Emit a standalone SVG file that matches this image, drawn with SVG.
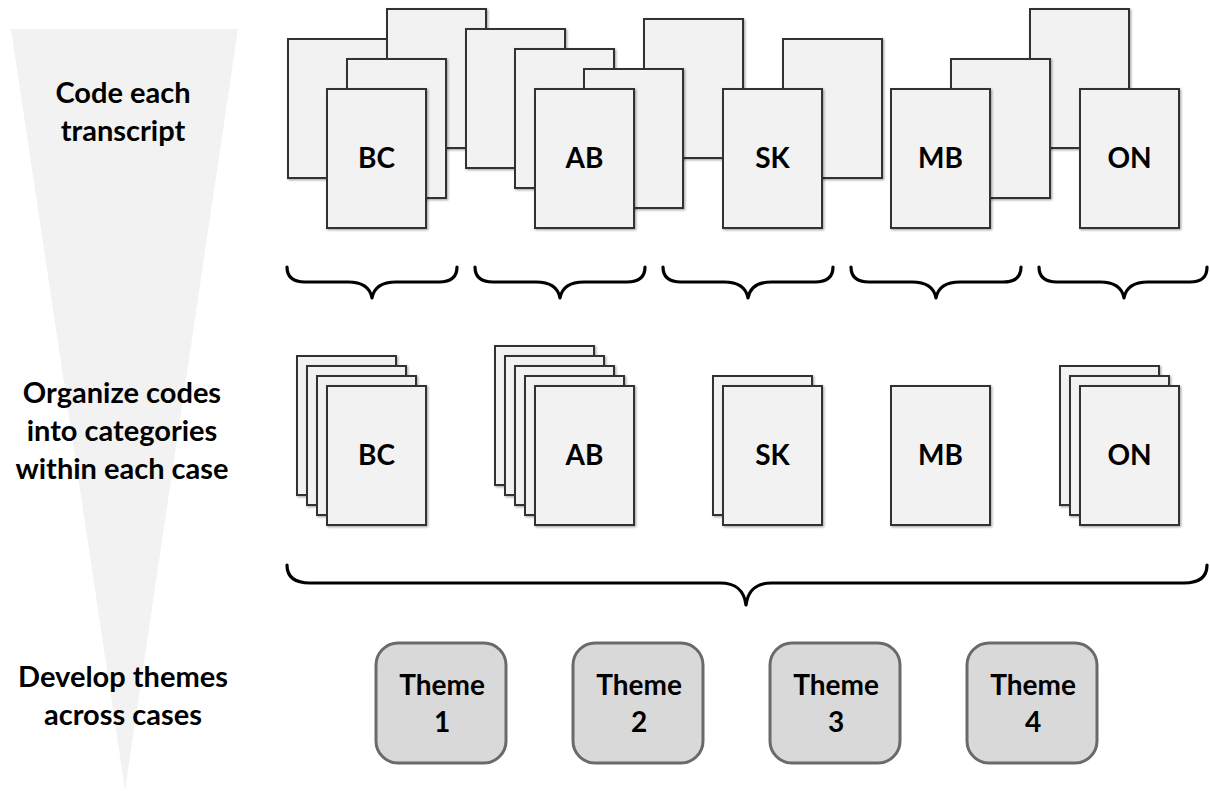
<svg xmlns="http://www.w3.org/2000/svg" width="1210" height="791" viewBox="0 0 1210 791">
<style>
.doc{fill:#f2f2f2;stroke:#333;stroke-width:2;filter:url(#sh)}
.lbl{font-family:Lato,"Open Sans","Liberation Sans",sans-serif;font-weight:700;font-size:28px;fill:#000;text-anchor:middle}
.step{font-family:Lato,"Open Sans","Liberation Sans",sans-serif;font-weight:700;font-size:29px;fill:#000;text-anchor:middle}
.brace{fill:none;stroke:#000;stroke-width:3.2;stroke-linecap:round;stroke-linejoin:round}
.theme{fill:#d9d9d9;stroke:#6a6a6a;stroke-width:3}
</style>
<defs>
<filter id="sh" x="-10%" y="-10%" width="130%" height="130%">
<feDropShadow dx="1.2" dy="1.2" stdDeviation="0.8" flood-color="#000" flood-opacity="0.35"/>
</filter>
</defs>
<rect width="1210" height="791" fill="#fff"/>
<g id="funnel">
<polygon points="11,29 238,29 125,790" fill="#f2f2f2"/>
</g>
<g id="step-labels">
<text class="step" x="123" y="103">Code each</text>
<text class="step" x="123" y="141">transcript</text>
<text class="step" x="122" y="403">Organize codes</text>
<text class="step" x="122" y="441">into categories</text>
<text class="step" x="122" y="479">within each case</text>
<text class="step" x="123" y="687">Develop themes</text>
<text class="step" x="123" y="725">across cases</text>
</g>
<g id="top-BC">
<rect class="doc" x="288" y="39" width="99" height="139"/>
<rect class="doc" x="387" y="9" width="99" height="139"/>
<rect class="doc" x="347" y="59" width="99" height="139"/>
<rect class="doc" x="327" y="89" width="99" height="139"/>
<text class="lbl" x="376.5" y="168">BC</text>
</g>
<g id="top-SK">
<rect class="doc" x="644" y="19" width="99" height="139"/>
<rect class="doc" x="783" y="39" width="99" height="139"/>
<rect class="doc" x="723" y="89" width="99" height="139"/>
<text class="lbl" x="772.5" y="168">SK</text>
</g>
<g id="top-AB">
<rect class="doc" x="466" y="29" width="99" height="139"/>
<rect class="doc" x="515" y="49" width="99" height="139"/>
<rect class="doc" x="584" y="69" width="99" height="139"/>
<rect class="doc" x="535" y="89" width="99" height="139"/>
<text class="lbl" x="584.5" y="168">AB</text>
</g>
<g id="top-ON">
<rect class="doc" x="1030" y="9" width="99" height="139"/>
<rect class="doc" x="1080" y="89" width="99" height="139"/>
<text class="lbl" x="1129.5" y="168">ON</text>
</g>
<g id="top-MB">
<rect class="doc" x="951" y="59" width="99" height="139"/>
<rect class="doc" x="891" y="89" width="99" height="139"/>
<text class="lbl" x="940.5" y="168">MB</text>
</g>
<g id="connectors">
<path class="brace" d="M287 267 C287 277 293 282 305 282 H348 C362 282 370 287 372 298 C374 287 382 282 396 282 H439 C451 282 457 277 457 267"/>
<path class="brace" d="M475 267 C475 277 481 282 493 282 H536 C550 282 558 287 560 298 C562 287 570 282 584 282 H627 C639 282 645 277 645 267"/>
<path class="brace" d="M663 267 C663 277 669 282 681 282 H724 C738 282 746 287 748 298 C750 287 758 282 772 282 H815 C827 282 833 277 833 267"/>
<path class="brace" d="M851 267 C851 277 857 282 869 282 H912 C926 282 934 287 936 298 C938 287 946 282 960 282 H1003 C1015 282 1021 277 1021 267"/>
<path class="brace" d="M1039 267 C1039 277 1045 282 1057 282 H1100 C1114 282 1122 287 1124 298 C1126 287 1134 282 1148 282 H1190 C1202 282 1207 277 1207 267"/>
<path class="brace" d="M287 565 C287 577 295 583 310 583 H720 C736 583 744 590 746 605 C748 590 756 583 772 583 H1184 C1199 583 1207 577 1207 565"/>
</g>
<g id="mid-BC">
<rect class="doc" x="297" y="356" width="99" height="139"/>
<rect class="doc" x="307" y="366" width="99" height="139"/>
<rect class="doc" x="317" y="376" width="99" height="139"/>
<rect class="doc" x="327" y="386" width="99" height="139"/>
<text class="lbl" x="376.5" y="465">BC</text>
</g>
<g id="mid-AB">
<rect class="doc" x="495" y="346" width="99" height="139"/>
<rect class="doc" x="505" y="356" width="99" height="139"/>
<rect class="doc" x="515" y="366" width="99" height="139"/>
<rect class="doc" x="525" y="376" width="99" height="139"/>
<rect class="doc" x="535" y="386" width="99" height="139"/>
<text class="lbl" x="584.5" y="465">AB</text>
</g>
<g id="mid-SK">
<rect class="doc" x="713" y="376" width="99" height="139"/>
<rect class="doc" x="723" y="386" width="99" height="139"/>
<text class="lbl" x="772.5" y="465">SK</text>
</g>
<g id="mid-MB">
<rect class="doc" x="891" y="386" width="99" height="139"/>
<text class="lbl" x="940.5" y="465">MB</text>
</g>
<g id="mid-ON">
<rect class="doc" x="1060" y="366" width="99" height="139"/>
<rect class="doc" x="1070" y="376" width="99" height="139"/>
<rect class="doc" x="1080" y="386" width="99" height="139"/>
<text class="lbl" x="1129.5" y="465">ON</text>
</g>
<g id="theme-1">
<rect class="theme" x="376" y="643" width="130" height="120" rx="22"/>
<text class="lbl" x="442" y="695">Theme</text>
<text class="lbl" x="442" y="732">1</text>
</g>
<g id="theme-2">
<rect class="theme" x="573" y="643" width="130" height="120" rx="22"/>
<text class="lbl" x="639" y="695">Theme</text>
<text class="lbl" x="639" y="732">2</text>
</g>
<g id="theme-3">
<rect class="theme" x="770" y="643" width="130" height="120" rx="22"/>
<text class="lbl" x="836" y="695">Theme</text>
<text class="lbl" x="836" y="732">3</text>
</g>
<g id="theme-4">
<rect class="theme" x="967" y="643" width="130" height="120" rx="22"/>
<text class="lbl" x="1033" y="695">Theme</text>
<text class="lbl" x="1033" y="732">4</text>
</g>
</svg>
